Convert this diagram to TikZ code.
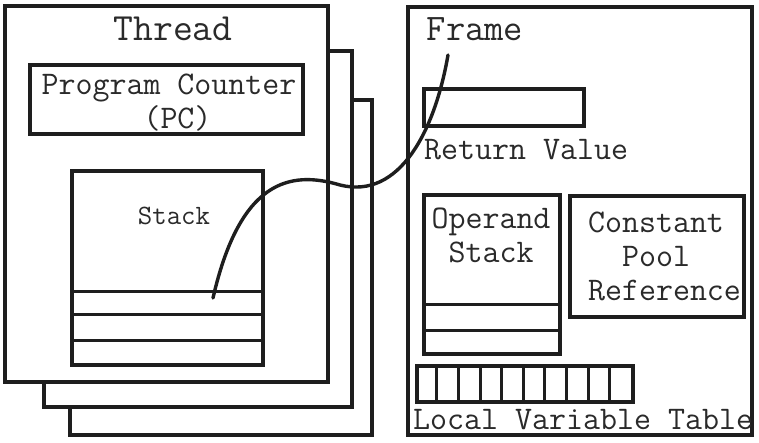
\documentclass[tikz,border=0pt]{standalone}
\usepackage{fontspec}
\usetikzlibrary{positioning}
\definecolor{JvmInk}{HTML}{1E1E1E}
\definecolor{JvmText}{HTML}{2A2A2A}

\begin{document}
\begin{tikzpicture}[x=1pt,y=-1pt]
    \tikzset{box/.style 2 args={draw=JvmInk,line width=3.4pt,fill=white,
      minimum width=#1pt,minimum height=#2pt,inner sep=0pt},
      slot/.style={draw=JvmInk,line width=3pt},
      lbl/.style={font=\ttfamily\fontsize{33}{34}\selectfont,text=JvmText,
      inner sep=0pt,align=center},
      link/.style={draw=JvmInk,line width=3.4pt,line cap=round}}
    \useasboundingbox (0,0) rectangle (759,442);
    % thread copies, back to front
    \node[box={302}{335}] (thread3) at (221,267.5) {};
    \node[box={308}{356}] (thread2) at (198,229) {};
    \node[box={323}{376}] (thread) at (166.5,194) {};
    \node[lbl,font=\ttfamily\fontsize{38.5}{40}\selectfont,anchor=base] (threadlbl) at (173,40) {Thread};
    \node[box={273}{69}] (pc) at (166.5,99.5) {};
    \node[lbl,anchor=base] (pclbl) at (169,128) {Program Counter\\\hphantom{~}(PC)};
    \node[box={191}{194}] (stack) at (167.5,268) {};
    \node[lbl,font=\ttfamily\fontsize{28}{30}\selectfont,anchor=base] (stacklbl) at (174,224) {Stack};
    \foreach \y in {291,314,340}
      \draw[slot] (stack.west |- 0,\y) -- (stack.east |- 0,\y);
    % frame
    \node[box={344}{428}] (frame) at (580,221) {};
    \node[lbl,font=\ttfamily\fontsize{37.5}{40}\selectfont,anchor=base] (framelbl) at (475,40) {Frame};
    \node[box={160}{37}] (ret) at (504,107.5) {};
    \node[lbl,anchor=base west] (retlbl) at (424,159) {Return Value};
    \node[box={136}{159}] (operand) at (492,274.5) {};
    \node[lbl,anchor=base] (operandlbl) at (491,262) {Operand\\Stack};
    \foreach \y in {304,330}
      \draw[slot] (operand.west |- 0,\y) -- (operand.east |- 0,\y);
    \node[box={174}{121}] (pool) at (657,256.5) {};
    \node[lbl,anchor=base] (poollbl) at (656,300) {Constant\\Pool\\\hphantom{~}Reference};
    \node[box={216}{36}] (lvt) at (525,384) {};
    \foreach \i in {1,...,9}
      \draw[slot] ([xshift=\i*21.6pt]lvt.south west) -- ([xshift=\i*21.6pt]lvt.north west);
    \node[lbl,anchor=base west] (lvtlbl) at (413,429) {Local Variable Table};
    % link from stack slot to frame
    \coordinate (slotpt) at (213,298);
    \coordinate (tip) at (448,55);
    \draw[link] (slotpt) .. controls (240,180) and (290,170) .. (340,185)
      .. controls (400,200) and (435,130) .. (tip);
\end{tikzpicture}
\end{document}
